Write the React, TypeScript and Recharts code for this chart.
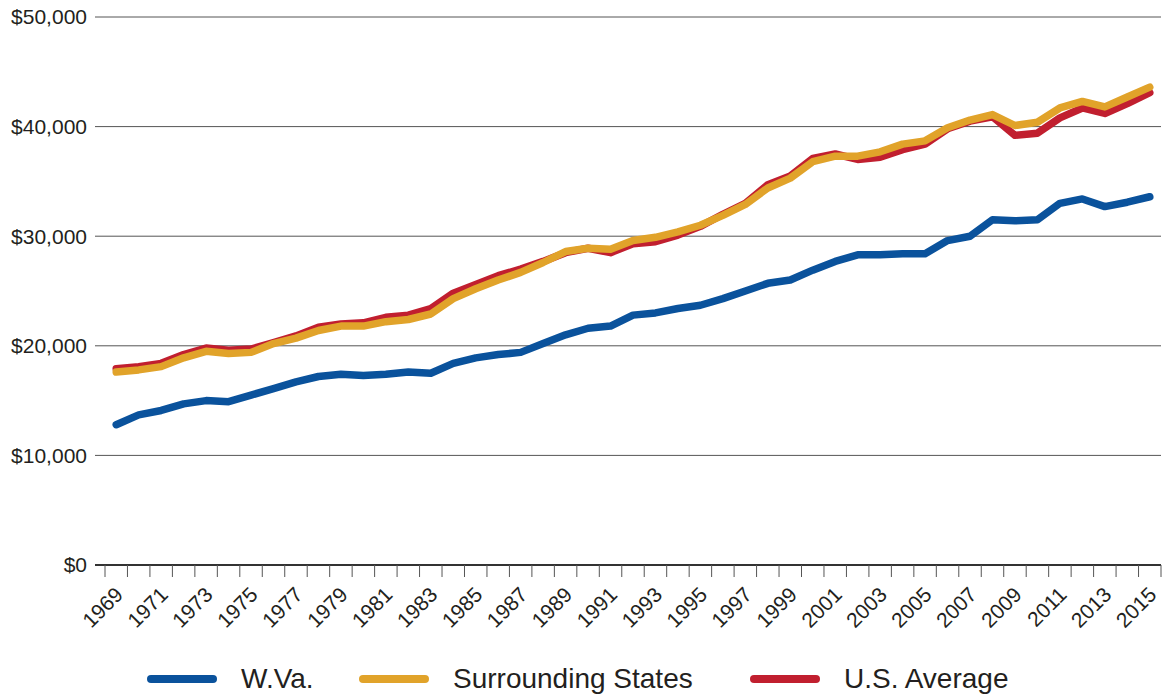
import { LineChart, Line, XAxis, YAxis, CartesianGrid } from 'recharts';

const years = [
  1969, 1970, 1971, 1972, 1973, 1974, 1975, 1976, 1977, 1978,
  1979, 1980, 1981, 1982, 1983, 1984, 1985, 1986, 1987, 1988,
  1989, 1990, 1991, 1992, 1993, 1994, 1995, 1996, 1997, 1998,
  1999, 2000, 2001, 2002, 2003, 2004, 2005, 2006, 2007, 2008,
  2009, 2010, 2011, 2012, 2013, 2014, 2015,
];

const wva = [
  12800, 13700, 14100, 14700, 15000, 14900, 15500, 16100, 16700, 17200,
  17400, 17300, 17400, 17600, 17500, 18400, 18900, 19200, 19400, 20200,
  21000, 21600, 21800, 22800, 23000, 23400, 23700, 24300, 25000, 25700,
  26000, 26900, 27700, 28300, 28300, 28400, 28400, 29600, 30000, 31500,
  31400, 31500, 33000, 33400, 32700, 33100, 33600,
];

const surrounding = [
  17600, 17800, 18100, 18900, 19500, 19300, 19400, 20200, 20700, 21400,
  21800, 21800, 22200, 22400, 22900, 24300, 25200, 26000, 26700, 27600,
  28600, 28900, 28800, 29600, 29900, 30400, 31000, 31900, 32900, 34400,
  35300, 36800, 37300, 37300, 37700, 38400, 38700, 39900, 40600, 41100,
  40100, 40400, 41700, 42300, 41800, 42700, 43600,
];

const usAverage = [
  17900, 18100, 18400, 19200, 19800, 19600, 19700, 20300, 20900, 21700,
  22000, 22100, 22600, 22800, 23400, 24800, 25600, 26400, 27000, 27700,
  28500, 28900, 28500, 29300, 29500, 30100, 30900, 32000, 33000, 34700,
  35500, 37100, 37500, 37000, 37200, 37900, 38400, 39800, 40500, 40900,
  39200, 39400, 40800, 41700, 41200, 42100, 43100,
];

const yTicks = [0, 10000, 20000, 30000, 40000, 50000];

const legendItems = [
  { name: 'W.Va.', color: '#0a529c', left: 147 },
  { name: 'Surrounding States', color: '#e1a32a', left: 359 },
  { name: 'U.S. Average', color: '#c11f2f', left: 750 },
];

const data = years.map((year, i) => ({
  year,
  wva: wva[i],
  surrounding: surrounding[i],
  us: usAverage[i],
}));

const W = 1164;
const H = 696;
const PLOT_LEFT = 95;
const PAD_LEFT = 10;
const MARGIN_RIGHT = 3;
const BW = (W - MARGIN_RIGHT - PLOT_LEFT - PAD_LEFT) / years.length;
const FONT = '"Liberation Sans", Arial, Helvetica, sans-serif';
const TEXT = '#231f20';

function XTick(props: any) {
  const { x, y, payload, index } = props;
  const year = payload.value;
  return (
    <g>
      <line x1={x - BW / 2} x2={x - BW / 2} y1={y} y2={y + 12} stroke="#555" strokeWidth={1} />
      {index === years.length - 1 && (
        <line x1={x + BW / 2} x2={x + BW / 2} y1={y} y2={y + 12} stroke="#555" strokeWidth={1} />
      )}
      {year % 2 === 1 && (
        <text
          transform={`translate(${x + 8},${y + 31}) rotate(-45)`}
          textAnchor="end"
          fill={TEXT}
          fontSize={21}
          fontFamily={FONT}
        >
          {year}
        </text>
      )}
    </g>
  );
}

function App() {
  return (
    <div style={{ position: 'absolute', left: 0, top: 0, width: W, height: H, background: '#fff' }}>
      <LineChart
        width={W}
        height={H}
        data={data}
        margin={{ top: 17, right: MARGIN_RIGHT, bottom: 71, left: 0 }}
      >
        <CartesianGrid vertical={false} stroke="#555" strokeWidth={1} />
        <XAxis
          dataKey="year"
          scale="band"
          interval={0}
          height={60}
          padding={{ left: PAD_LEFT, right: 0 }}
          tickLine={false}
          tickSize={0}
          tickMargin={0}
          axisLine={{ stroke: '#333', strokeWidth: 2 }}
          tick={<XTick />}
        />
        <YAxis
          width={PLOT_LEFT}
          domain={[0, 50000]}
          ticks={yTicks}
          axisLine={false}
          tickLine={false}
          tickSize={0}
          tickMargin={8}
          tick={{ fill: TEXT, fontSize: 21, fontFamily: FONT }}
          tickFormatter={(v: number) => `$${v.toLocaleString('en-US')}`}
        />
        <Line
          dataKey="wva"
          stroke="#0a529c"
          strokeWidth={7.5}
          dot={false}
          strokeLinecap="round"
          strokeLinejoin="round"
          isAnimationActive={false}
        />
        <Line
          dataKey="us"
          stroke="#c11f2f"
          strokeWidth={7.5}
          dot={false}
          strokeLinecap="round"
          strokeLinejoin="round"
          isAnimationActive={false}
        />
        <Line
          dataKey="surrounding"
          stroke="#e1a32a"
          strokeWidth={7.5}
          dot={false}
          strokeLinecap="round"
          strokeLinejoin="round"
          isAnimationActive={false}
        />
      </LineChart>
      {legendItems.map((item) => (
        <div
          key={item.name}
          style={{
            position: 'absolute',
            left: item.left,
            top: 663,
            display: 'flex',
            alignItems: 'center',
            fontFamily: FONT,
            fontSize: 28,
            color: TEXT,
          }}
        >
          <div style={{ width: 70, height: 8, borderRadius: 4, background: item.color, marginRight: 24 }} />
          <span>{item.name}</span>
        </div>
      ))}
    </div>
  );
}

export default App;
